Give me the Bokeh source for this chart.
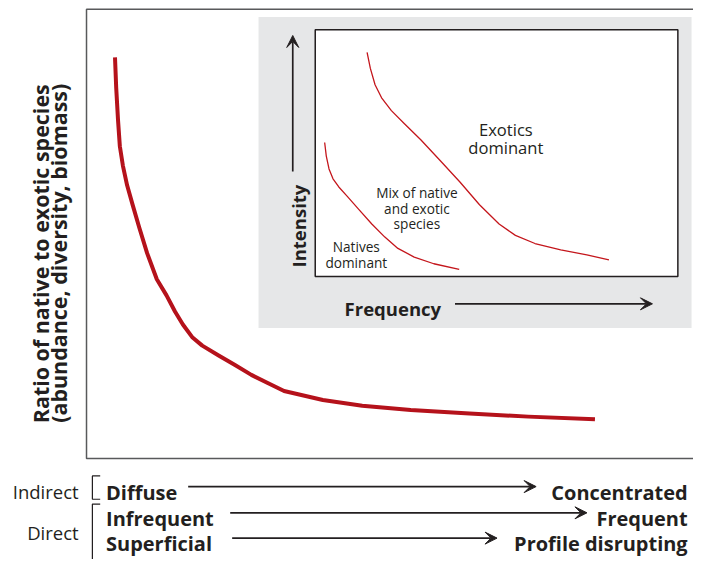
from bokeh.plotting import figure
from bokeh.models import Range1d, Arrow, VeeHead, ColumnDataSource
from bokeh.core.properties import value
from bokeh.embed import file_html
from bokeh.resources import INLINE
import math

# ---------------- data ----------------
# main curve: disturbance gradient (0-100) vs native:exotic ratio (0-100)
main_x = [4.7, 4.9, 5.2, 5.5, 6.0, 6.7, 7.6, 8.7, 10.0, 11.6, 13.2, 14.6, 15.9, 17.5, 19.1,
          21.8, 24.5, 27.2, 29.9, 32.6, 39.0, 45.5, 53.5, 63.2, 72.9, 83.9]
main_y = [89.3, 82.5, 75.3, 69.5, 65.2, 60.8, 56.5, 51.4, 45.7, 39.9, 36.3, 32.7, 29.8, 26.9, 25.1,
          22.9, 20.8, 18.6, 16.8, 15.0, 13.0, 11.7, 10.8, 10.0, 9.3, 8.7]

# inset boundaries: frequency (0-100) vs intensity (0-100)
natives_x = [2.6, 3.05, 3.8, 4.9, 6.5, 8.9, 12.0, 15.6, 19.2, 22.8, 27.3, 32.7, 39.7]
natives_y = [54.3, 48.8, 43.6, 39.6, 36.3, 32.4, 27.2, 21.3, 16.0, 11.4, 7.9, 5.2, 2.9]
exotics_x = [14.3, 15.2, 16.5, 18.3, 21.0, 24.6, 29.1, 34.5, 39.9, 45.3, 50.7, 55.2, 60.6, 67.7, 74.9, 81.0]
exotics_y = [90.8, 84.3, 77.7, 72.4, 67.2, 61.9, 55.4, 46.9, 38.3, 29.1, 21.3, 16.7, 13.4, 10.8, 8.8, 6.8]

y_title = ["Ratio of native to exotic species", "(abundance, diversity, biomass)"]
row_left = ["Diffuse", "Infrequent", "Superficial"]
row_right = ["Concentrated", "Frequent", "Profile disrupting"]
group_labels = ["Indirect", "Direct"]
inset_x_title = "Frequency"
inset_y_title = "Intensity"
region_labels = [["Exotics", "dominant"], ["Mix of native", "and exotic", "species"], ["Natives", "dominant"]]

# ---------------- layout (reference pixels, 709 x 575 drawing) ----------------
W, H = 693, 559
REF_W, REF_H = 709, 575
S = (W / REF_W + H / REF_H) / 2.0                     # font scale
BOX_L, BOX_R, BOX_T, BOX_B = 88, 708, 9, 471          # main frame
IN_L, IN_R, IN_T, IN_B = 322, 693, 30, 284            # inset frame

def mx(px):
    return (px - BOX_L) * 100.0 / (BOX_R - BOX_L)

def my(py):
    return (BOX_B - py) * 100.0 / (BOX_B - BOX_T)

def ix(px):
    return (px - IN_L) * 100.0 / (IN_R - IN_L)

def iy(py):
    return (IN_B - py) * 100.0 / (IN_B - IN_T)

def fs(v):
    return f"{v * S:.2f}px"

RED = "#b5121b"
RED2 = "#c4161c"
DARK = "#231f20"
GREY = "#e6e7e8"
FONT = value("Open Sans")

p = figure(width=W, height=H, output_backend="svg", toolbar_location=None,
           x_range=Range1d(mx(0), mx(REF_W)), y_range=Range1d(my(REF_H), my(0)),
           x_axis_type=None, y_axis_type=None, min_border=0,
           outline_line_color=None, background_fill_color="white", border_fill_color="white")
p.extra_x_ranges = {"ix": Range1d(ix(0), ix(REF_W))}
p.extra_y_ranges = {"iy": Range1d(iy(REF_H), iy(0))}
p.xgrid.visible = False
p.ygrid.visible = False

# main frame (its right side lies beyond the picture)
p.line(x=[mx(REF_W + 5), 0, 0, mx(REF_W + 5)], y=[100, 100, 0, 0],
       line_color="#58595b", line_width=1.5)

# grey inset panel
p.quad(left=[mx(264)], right=[mx(707)], bottom=[my(337)], top=[my(17)],
       fill_color=GREY, line_color=None)
# inset frame
p.quad(left=[0], right=[100], bottom=[0], top=[100], fill_color="white",
       line_color=DARK, line_width=1.5, x_range_name="ix", y_range_name="iy")

# main curve
p.line(main_x, main_y, line_color=RED, line_width=4, line_join="round")

# inset curves
p.line(natives_x, natives_y, line_color=RED2, line_width=1.3, line_join="round",
       x_range_name="ix", y_range_name="iy")
p.line(exotics_x, exotics_y, line_color=RED2, line_width=1.3, line_join="round",
       x_range_name="ix", y_range_name="iy")

# inset region labels
reg_pos = [(517, [133, 151], 17), (426, [198, 214, 229], 14), (364, [253, 269], 14)]
for lines, (cx, bls, size) in zip(region_labels, reg_pos):
    src = ColumnDataSource(dict(x=[mx(cx)] * len(lines), y=[my(b) for b in bls], t=lines))
    p.text(x="x", y="y", text="t", source=src, text_font=FONT, text_font_size=fs(size),
           text_align="center", text_baseline="alphabetic", text_color=DARK)

# inset axis titles
p.text(x=[mx(352)], y=[my(317)], text=[inset_x_title], text_font=FONT, text_font_size=fs(19),
       text_font_style="bold", text_align="left", text_baseline="alphabetic", text_color=DARK)
p.text(x=[mx(305)], y=[my(232)], text=[inset_y_title], text_font=FONT, text_font_size=fs(19),
       text_font_style="bold", text_align="center", text_baseline="alphabetic", text_color=DARK,
       angle=math.pi / 2)

def arrow(x0, y0, x1, y1, w=1.7, size=12):
    p.add_layout(Arrow(end=VeeHead(size=size, fill_color=DARK, line_color=DARK, line_width=1),
                       x_start=mx(x0), y_start=my(y0), x_end=mx(x1), y_end=my(y1),
                       line_color=DARK, line_width=w))

arrow(299, 176, 299, 36)
arrow(465, 312, 667, 312)

# main y title
p.text(x=[mx(41), mx(59)], y=[my(260.5), my(260)], text=y_title, text_font=FONT,
       text_font_size=fs(22), text_font_style="bold", text_align="center",
       text_baseline="alphabetic", text_color=DARK, angle=math.pi / 2)

# bottom rows
row_base = [506, 533, 559]
p.text(x=[mx(108)] * 3, y=[my(b) for b in row_base], text=row_left, text_font=FONT,
       text_font_size=fs(20.5), text_font_style="bold", text_align="left",
       text_baseline="alphabetic", text_color=DARK)
p.text(x=[mx(703)] * 3, y=[my(b) for b in row_base], text=row_right, text_font=FONT,
       text_font_size=fs(20.5), text_font_style="bold", text_align="right",
       text_baseline="alphabetic", text_color=DARK)
arrow(192, 500, 548, 500)
arrow(235, 527, 600, 527)
arrow(237, 553, 508, 553)

p.text(x=[mx(80), mx(80)], y=[my(505), my(547)], text=group_labels, text_font=FONT,
       text_font_size=fs(19), text_align="right", text_baseline="alphabetic", text_color=DARK)
# brackets
p.multi_line(xs=[[mx(102), mx(94), mx(94), mx(102)], [mx(102), mx(94), mx(94)]],
             ys=[[my(489), my(489), my(513), my(513)], [my(518), my(518), my(585)]],
             line_color=DARK, line_width=1.2)

open("out.html", "w").write(file_html(p, INLINE))
